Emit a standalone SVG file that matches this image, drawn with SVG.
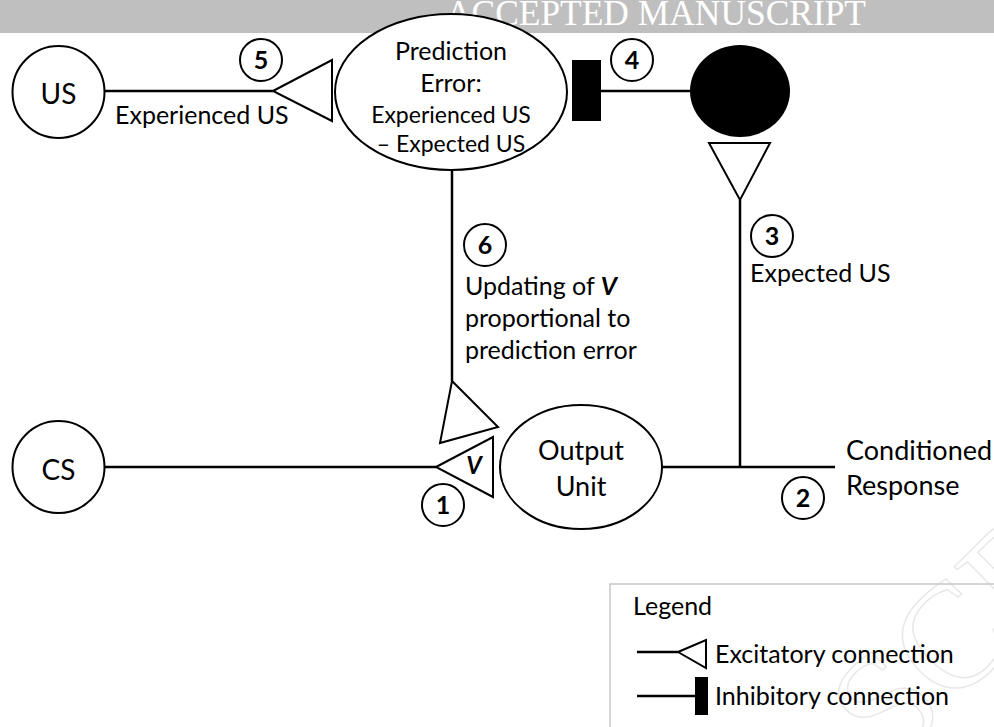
<svg xmlns="http://www.w3.org/2000/svg" width="994" height="727" viewBox="0 0 994 727">
<defs>
<style>
.ln{stroke:#000;stroke-width:2.5;fill:none}
.sh{stroke:#000;stroke-width:2;fill:#fff}
.t{font-family:Lato,"Liberation Sans",sans-serif;fill:#000}
.num{font-family:Lato,"Liberation Sans",sans-serif;font-weight:bold;font-size:25px;text-anchor:middle;fill:#000}
.c{text-anchor:middle}
</style>
</defs>
<rect width="994" height="727" fill="#fff"/>
<text x="891" y="769" transform="rotate(-45 891 769)" font-family="Liberation Serif,serif" font-size="150" fill="none" stroke="#e8e8e8" stroke-width="1.5">SCRIPT</text>
<g id="banner">
<rect x="0" y="0" width="994" height="33" fill="#bfbfbf"/>
<text x="446" y="25" font-family="Liberation Serif,serif" font-size="36" fill="#fff" textLength="420" lengthAdjust="spacingAndGlyphs">ACCEPTED MANUSCRIPT</text>
</g>
<g id="connectors">
<line class="ln" x1="104" y1="91" x2="273" y2="91"/>
<polygon class="sh" points="273,91 332,60 332,121"/>
<line class="ln" x1="601" y1="91" x2="690" y2="91"/>
<rect x="572" y="60" width="29" height="61" fill="#000"/>
<line class="ln" x1="740" y1="200" x2="740" y2="467"/>
<polygon class="sh" points="709,143 770,143 740,200"/>
<line class="ln" x1="452" y1="170" x2="452" y2="381"/>
<polygon class="sh" points="452,381 498,427 440,443"/>
<line class="ln" x1="104" y1="467" x2="436" y2="467"/>
<polygon class="sh" points="436,467 493,437 493,497"/>
<line class="ln" x1="662" y1="467" x2="835" y2="467"/>
</g>
<g id="us">
<circle class="sh" cx="58.5" cy="92" r="46"/>
<text class="t c" x="58.5" y="104" font-size="28">US</text>
</g>
<g id="cs">
<circle class="sh" cx="58.5" cy="467" r="46"/>
<text class="t c" x="58.5" y="480" font-size="28">CS</text>
</g>
<g id="prediction-error">
<ellipse class="sh" cx="451" cy="92" rx="116" ry="78"/>
<text class="t c" x="451" y="60" font-size="25">Prediction</text>
<text class="t c" x="451" y="92" font-size="25">Error:</text>
<text class="t c" x="451" y="123" font-size="23">Experienced US</text>
<text class="t c" x="451" y="152" font-size="23">– Expected US</text>
</g>
<g id="expectation-unit">
<ellipse cx="740" cy="91" rx="50" ry="46" fill="#000"/>
</g>
<g id="output-unit">
<ellipse class="sh" cx="581" cy="467" rx="81" ry="62"/>
<text class="t c" x="581" y="460" font-size="27">Output</text>
<text class="t c" x="581" y="496" font-size="27">Unit</text>
</g>
<g id="labels">
<text class="t" x="115" y="124" font-size="25">Experienced US</text>
<text class="t" x="750" y="282" font-size="25">Expected US</text>
<text class="t" x="465" y="295" font-size="25">Updating of <tspan font-weight="bold" font-style="italic">V</tspan></text>
<text class="t" x="465" y="327" font-size="25">proportional to</text>
<text class="t" x="465" y="359" font-size="25">prediction error</text>
<text class="t" x="846" y="460" font-size="27">Conditioned</text>
<text class="t" x="846" y="495" font-size="27">Response</text>
<text class="t c" x="474" y="474" font-size="24" font-weight="bold" font-style="italic">V</text>
</g>
<g id="step-numbers">
<circle class="sh" cx="261" cy="60" r="21"/><text class="num" x="261" y="69">5</text>
<circle class="sh" cx="632" cy="60" r="21"/><text class="num" x="632" y="69">4</text>
<circle class="sh" cx="772" cy="236" r="21"/><text class="num" x="772" y="245">3</text>
<circle class="sh" cx="485" cy="245" r="21"/><text class="num" x="485" y="254">6</text>
<circle class="sh" cx="443" cy="505" r="21"/><text class="num" x="443" y="514">1</text>
<circle class="sh" cx="803" cy="498" r="21"/><text class="num" x="803" y="507">2</text>
</g>
<g id="legend">
<rect x="610" y="584" width="400" height="160" fill="none" stroke="#c8c8c8" stroke-width="1.5"/>
<text class="t" x="633" y="615" font-size="25">Legend</text>
<line class="ln" x1="637" y1="652" x2="678" y2="652"/>
<polygon class="sh" points="678,652 706,640 706,668"/>
<text class="t" x="715" y="663" font-size="25">Excitatory connection</text>
<line class="ln" x1="637" y1="696" x2="695" y2="696"/>
<rect x="695" y="677" width="13" height="38" fill="#000"/>
<text class="t" x="715" y="705" font-size="25">Inhibitory connection</text>
</g>
</svg>
